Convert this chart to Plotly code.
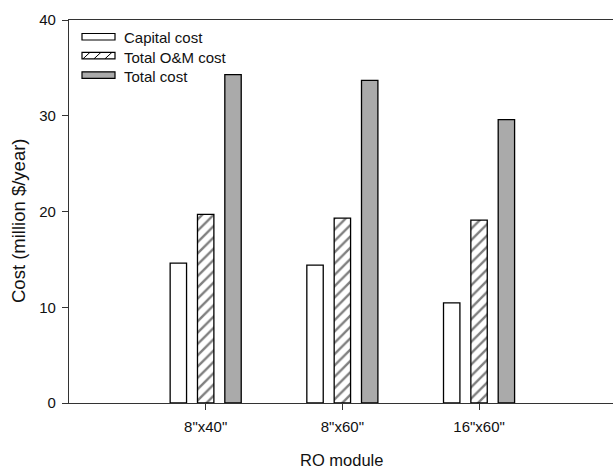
import plotly.graph_objects as go

categories = ['8"x40"', '8"x60"', '16"x60"']
capital_cost = [14.6, 14.4, 10.45]
om_cost = [19.7, 19.3, 19.1]
total_cost = [34.3, 33.7, 29.6]
series_names = ["Capital cost", "Total O&M cost", "Total cost"]
y_ticks = [0, 10, 20, 30, 40]
x_title = "RO module"
y_title = "Cost (million $/year)"

FONT = "Liberation Sans, Arial, sans-serif"
LINE = "#333333"
TXT = "#111111"

fig = go.Figure()
fig.add_trace(go.Bar(x=categories, y=capital_cost, name=series_names[0],
                     marker=dict(color="white", line=dict(color="black", width=1.3))))
fig.add_trace(go.Bar(x=categories, y=om_cost, name=series_names[1],
                     marker=dict(color="white", line=dict(color="black", width=1.3),
                                 pattern=dict(shape="/", fgcolor="black", bgcolor="white",
                                              size=8, solidity=0.3))))
fig.add_trace(go.Bar(x=categories, y=total_cost, name=series_names[2],
                     marker=dict(color="#aaaaaa", line=dict(color="black", width=1.3))))

# plot-area pixel geometry
L, R, T, B = 69, 613, 20, 403
W, H = 613, 468

def px(x):
    return (x - L) / (R - L)

def py(y):
    return (B - y) / (B - T)

shapes = []
annotations = []
rows = [(33.5, 40.0), (52.3, 58.8), (71.8, 78.3)]
text_rows = [37.0, 57.0, 77.0]
fills = ["white", "white", "#aaaaaa"]
for i, (y0, y1) in enumerate(rows):
    shapes.append(dict(type="rect", xref="paper", yref="paper",
                       x0=px(82), x1=px(115), y0=py(y1), y1=py(y0),
                       fillcolor=fills[i], line=dict(color="black", width=1.2)))
    annotations.append(dict(xref="paper", yref="paper", x=px(124), y=py(text_rows[i]),
                            text=series_names[i], showarrow=False, xanchor="left",
                            yanchor="middle", xshift=-2,
                            font=dict(family=FONT, size=15, color=TXT)))
# hatch lines in the second swatch
y0, y1 = rows[1]
for bx in [83, 94, 105]:
    shapes.append(dict(type="line", xref="paper", yref="paper",
                       x0=px(bx), y0=py(y1), x1=px(bx + 7), y1=py(y0),
                       line=dict(color="black", width=1)))

# axis titles
annotations.append(dict(xref="paper", yref="paper", x=px(341), y=py(460),
                        text=x_title, showarrow=False, xanchor="center", yanchor="middle",
                        font=dict(family=FONT, size=16.5, color=TXT)))
annotations.append(dict(xref="paper", yref="paper", x=px(18), y=py(221),
                        text=y_title, showarrow=False, xanchor="center", yanchor="middle",
                        textangle=-90, font=dict(family=FONT, size=18.5, color=TXT)))

fig.update_layout(
    width=W, height=H,
    margin=dict(l=L, r=W - R, t=T, b=H - B),
    plot_bgcolor="white", paper_bgcolor="white",
    barmode="group", bargap=0.4, bargroupgap=0.4,
    showlegend=False,
    shapes=shapes, annotations=annotations,
    font=dict(family=FONT, size=15, color=TXT),
)
fig.update_xaxes(
    type="category", range=[-1, 2.98],
    showline=True, linecolor=LINE, linewidth=1.3, mirror=True,
    ticks="outside", ticklen=6, tickcolor=LINE, tickwidth=1,
    showgrid=False, zeroline=False,
    tickfont=dict(family=FONT, size=15, color=TXT),
    ticklabelstandoff=4,
)
fig.update_yaxes(
    range=[0, 40], tickvals=y_ticks,
    showline=True, linecolor=LINE, linewidth=1.3,
    ticks="outside", ticklen=6, tickcolor=LINE, tickwidth=1,
    showgrid=False, zeroline=False,
    tickfont=dict(family=FONT, size=15, color=TXT),
    ticklabelstandoff=3,
)

fig.write_html("out.html")
